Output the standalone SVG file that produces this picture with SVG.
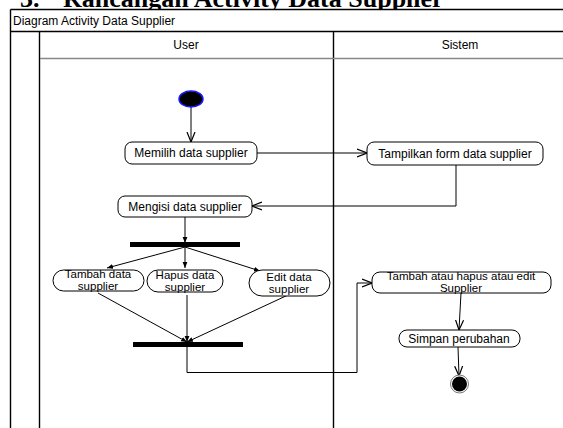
<svg xmlns="http://www.w3.org/2000/svg" width="563" height="428" viewBox="0 0 563 428">
<defs>
<style>
.t{font-family:"Liberation Sans",Arial,sans-serif;font-size:12px;fill:#000}
.s{font-size:11.5px}
.c{text-anchor:middle}
.n{fill:#fff;stroke:#000;stroke-width:1}
.ln{fill:none;stroke:#000;stroke-width:1}
.fr{fill:none;stroke:#000;stroke-width:1.4}
</style>
<marker id="open" viewBox="0 0 10 10" refX="10" refY="5" markerWidth="10" markerHeight="10" markerUnits="userSpaceOnUse" orient="auto">
<path d="M0,1 L10,5 L0,9" fill="none" stroke="#000" stroke-width="1.2"/>
</marker>
<marker id="fill" viewBox="0 0 10 10" refX="10" refY="5" markerWidth="6" markerHeight="6" markerUnits="userSpaceOnUse" orient="auto">
<path d="M0,1 L10,5 L0,9 Z" fill="#000"/>
</marker>
</defs>
<rect width="563" height="428" fill="#fff"/>
<text x="20" y="7" style="font-family:'Liberation Serif','Times New Roman',serif;font-weight:bold;font-size:26px">3.<tspan x="63">Rancangan Activity Data Supplier</tspan></text>
<g id="frame">
<rect x="10.5" y="9.5" width="560" height="430" fill="#fff" stroke="none"/>
<line class="fr" x1="10.5" y1="9.5" x2="563" y2="9.5"/>
<line class="fr" x1="10.5" y1="9.5" x2="10.5" y2="428"/>
<line class="fr" x1="10.5" y1="31.5" x2="563" y2="31.5"/>
<line class="fr" x1="39.5" y1="31.5" x2="39.5" y2="428"/>
<line class="fr" x1="333.5" y1="31.5" x2="333.5" y2="428"/>
<line x1="40" y1="58.5" x2="563" y2="58.5" stroke="#888" stroke-width="1.6"/>
<text class="t" x="13" y="25">Diagram Activity Data Supplier</text>
<text class="t c" x="186" y="49">User</text>
<text class="t c" x="460" y="49">Sistem</text>
</g>
<g id="connectors">
<line class="ln" x1="191" y1="107" x2="191" y2="142" marker-end="url(#open)"/>
<line class="ln" x1="257" y1="153" x2="367" y2="153" marker-end="url(#open)"/>
<polyline class="ln" points="456,165 456,206 252,206" marker-end="url(#open)"/>
<line class="ln" x1="185" y1="217" x2="185" y2="243" marker-end="url(#fill)"/>
<line class="ln" x1="185" y1="247" x2="107" y2="268" marker-end="url(#fill)"/>
<line class="ln" x1="185" y1="247" x2="185" y2="268" marker-end="url(#fill)"/>
<line class="ln" x1="185" y1="247" x2="260" y2="271" marker-end="url(#fill)"/>
<line class="ln" x1="98" y1="293" x2="187" y2="342" marker-end="url(#fill)"/>
<line class="ln" x1="187" y1="295" x2="187" y2="342" marker-end="url(#fill)"/>
<line class="ln" x1="288" y1="295" x2="187" y2="342" marker-end="url(#fill)"/>
<polyline class="ln" points="187,347 187,372.5 357,372.5 357,283 372,283" marker-end="url(#open)"/>
<line class="ln" x1="461" y1="293" x2="459" y2="330" marker-end="url(#open)"/>
<line class="ln" x1="458" y1="347" x2="459" y2="376" marker-end="url(#open)"/>
</g>
<g id="start"><ellipse cx="191" cy="99" rx="12" ry="8" fill="#000" stroke="#1a1aff" stroke-width="1.5"/></g>
<g id="memilih"><rect class="n" x="125" y="142" width="132" height="22" rx="7"/><text class="t c" x="191" y="157">Memilih data supplier</text></g>
<g id="tampilkan"><rect class="n" x="367" y="142" width="176" height="23" rx="7"/><text class="t c" x="455" y="158">Tampilkan form data supplier</text></g>
<g id="mengisi"><rect class="n" x="118" y="196" width="134" height="21" rx="7"/><text class="t c" x="185" y="211">Mengisi data supplier</text></g>
<g id="fork"><rect x="130" y="242" width="110" height="5" fill="#000"/></g>
<g id="tambah"><rect class="n" x="53" y="270" width="91" height="21" rx="10.5"/><text class="t s c" x="98" y="278">Tambah data</text><text class="t s c" x="98" y="290">supplier</text></g>
<g id="hapus"><rect class="n" x="147" y="270" width="76" height="22" rx="11"/><text class="t s c" x="185" y="279">Hapus data</text><text class="t s c" x="185" y="291">supplier</text></g>
<g id="edit"><rect class="n" x="249" y="270" width="81" height="26" rx="13"/><text class="t s c" x="289" y="281">Edit data</text><text class="t s c" x="289" y="293">supplier</text></g>
<g id="join"><rect x="133" y="342" width="110" height="5" fill="#000"/></g>
<g id="tambahatau"><rect class="n" x="372" y="272" width="179" height="21" rx="8"/><text class="t s c" x="461" y="280">Tambah atau hapus atau edit</text><text class="t s c" x="461" y="292">Supplier</text></g>
<g id="simpan"><rect class="n" x="399" y="330" width="121" height="17" rx="8"/><text class="t c" x="459" y="343">Simpan perubahan</text></g>
<g id="end"><circle cx="459.5" cy="384" r="9" fill="#fff" stroke="#777" stroke-width="1"/><circle cx="459.5" cy="384" r="7.5" fill="#000"/></g>
</svg>
